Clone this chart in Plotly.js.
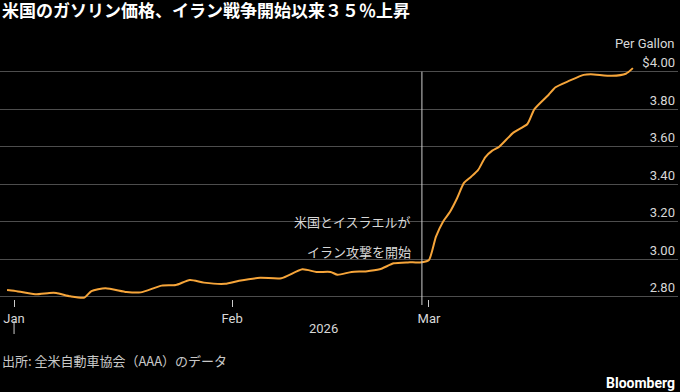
<!DOCTYPE html>
<html>
<head>
<meta charset="utf-8">
<script src="https://cdn.plot.ly/plotly-3.0.1.min.js"></script>
<style>
  html, body { margin: 0; padding: 0; background: #000; }
  #chart { width: 680px; height: 392px; }
</style>
</head>
<body>
<div id="chart"></div>
<script>
// Data (US average gasoline price, $ per gallon)
const dates = [
  '2025-12-31','2026-01-01','2026-01-04','2026-01-06','2026-01-07','2026-01-09','2026-01-11',
  '2026-01-12','2026-01-14','2026-01-17','2026-01-19','2026-01-22','2026-01-24','2026-01-26',
  '2026-01-28','2026-01-31','2026-02-02','2026-02-05','2026-02-08','2026-02-11','2026-02-13',
  '2026-02-15','2026-02-16','2026-02-18','2026-02-20','2026-02-22','2026-02-24','2026-02-26',
  '2026-02-28','2026-03-01','2026-03-02','2026-03-03','2026-03-04','2026-03-05','2026-03-06',
  '2026-03-07','2026-03-08','2026-03-09','2026-03-10','2026-03-11','2026-03-13','2026-03-15',
  '2026-03-16','2026-03-18','2026-03-19','2026-03-21','2026-03-23','2026-03-24','2026-03-27',
  '2026-03-29','2026-03-30'
];
const prices = [
  2.836, 2.832, 2.813, 2.820, 2.820, 2.802, 2.795,
  2.830, 2.845, 2.825, 2.823, 2.859, 2.862, 2.889,
  2.875, 2.869, 2.885, 2.901, 2.898, 2.946, 2.932,
  2.932, 2.917, 2.932, 2.935, 2.946, 2.978, 2.983,
  2.984, 2.996, 3.120, 3.200, 3.253, 3.325, 3.408,
  3.440, 3.476, 3.543, 3.579, 3.600, 3.675, 3.721,
  3.800, 3.876, 3.917, 3.952, 3.983, 3.987, 3.978,
  3.989, 4.019
];
const yTickVals = [2.8, 3.0, 3.2, 3.4, 3.6, 3.8, 4.0];
const yTickText = ['2.80', '3.00', '3.20', '3.40', '3.60', '3.80', '$4.00'];
const xTickVals = ['2026-01-01', '2026-02-01', '2026-03-01'];
const xTickText = ['Jan', 'Feb', 'Mar'];
const warStart = '2026-02-28';
const yearLabel = '2026';
const titleText = '米国のガソリン価格、イラン戦争開始以来３５％上昇';
const noteLine1 = '米国とイスラエルが';
const noteLine2 = 'イラン攻撃を開始';
const sourceText = '出所: 全米自動車協会（AAA）のデータ';
const unitText = 'Per Gallon';

const LATIN = 'Roboto, "Noto Sans", sans-serif';
const CJK = '"Noto Sans CJK JP", "Noto Sans", sans-serif';
const labelColor = '#d8d8d8';

// plot-area geometry (pixels) used to place the decorations
const PLOT_TOP = 40, PLOT_BOTTOM = 299, PLOT_W = 678;
const PLOT_H = PLOT_BOTTOM - PLOT_TOP;
const py = (y) => (PLOT_BOTTOM - y) / PLOT_H;
const px = (x) => x / PLOT_W;

const trace = {
  type: 'scatter', mode: 'lines',
  x: dates, y: prices,
  line: { color: '#f6a53a', width: 2, shape: 'spline', smoothing: 0.6 },
  hoverinfo: 'skip'
};

const layout = {
  width: 680, height: 392,
  paper_bgcolor: '#000', plot_bgcolor: '#000',
  margin: { l: 0, r: 680 - PLOT_W, t: PLOT_TOP, b: 392 - PLOT_BOTTOM },
  showlegend: false,
  title: {
    text: titleText,
    font: { family: CJK, size: 17, color: '#ffffff', weight: 700 },
    x: 2 / 680, xref: 'container', xanchor: 'left',
    y: 1 - 5 / 392, yref: 'container', yanchor: 'top'
  },
  xaxis: {
    type: 'date',
    range: ['2025-12-30 00:00', '2026-04-05 10:00'],
    tickvals: xTickVals, ticktext: xTickText,
    ticks: 'outside', ticklen: 7, tickcolor: '#cccccc', tickwidth: 1,
    showgrid: false, zeroline: false, showline: false,
    tickfont: { family: LATIN, size: 13, color: labelColor },
    fixedrange: true
  },
  yaxis: {
    range: [2.7877, 4.169],
    side: 'right',
    tickvals: yTickVals, ticktext: yTickText,
    ticklabelposition: 'inside top',
    ticks: '',
    showgrid: true, gridcolor: '#4d4d4d', gridwidth: 1,
    zeroline: false, showline: false,
    tickfont: { family: LATIN, size: 13, color: labelColor },
    fixedrange: true
  },
  shapes: [
    { type: 'line', xref: 'x', yref: 'paper', x0: warStart, x1: warStart,
      y0: py(305), y1: py(71.7),
      line: { color: '#cfcfcf', width: 1 } },
    { type: 'line', xref: 'x', yref: 'paper', x0: xTickVals[0], x1: xTickVals[0],
      y0: py(334), y1: py(321),
      line: { color: '#cccccc', width: 1 } }
  ],
  annotations: [
    { text: noteLine1, xref: 'paper', yref: 'paper', x: px(413), y: py(222),
      xanchor: 'right', yanchor: 'middle', showarrow: false,
      font: { family: CJK, size: 13, color: labelColor } },
    { text: noteLine2, xref: 'paper', yref: 'paper', x: px(413), y: py(251),
      xanchor: 'right', yanchor: 'middle', showarrow: false,
      font: { family: CJK, size: 13, color: labelColor } },
    { text: unitText, xref: 'paper', yref: 'paper', x: px(676), y: py(44),
      xanchor: 'right', yanchor: 'middle', showarrow: false,
      font: { family: LATIN, size: 13, color: labelColor } },
    { text: yearLabel, xref: 'paper', yref: 'paper', x: px(323), y: py(328),
      xanchor: 'center', yanchor: 'middle', showarrow: false,
      font: { family: LATIN, size: 13, color: labelColor } },
    { text: sourceText, xref: 'paper', yref: 'paper', x: 0, y: py(360),
      xanchor: 'left', yanchor: 'middle', showarrow: false,
      font: { family: CJK, size: 13, color: '#c8c8c8' } },
    { text: 'Bloomberg', xref: 'paper', yref: 'paper', x: px(677), y: py(383),
      xanchor: 'right', yanchor: 'middle', showarrow: false,
      font: { family: LATIN, size: 14, color: '#ffffff', weight: 700 } }
  ]
};

Plotly.newPlot('chart', [trace], layout, { displayModeBar: false, staticPlot: true });
</script>
</body>
</html>
